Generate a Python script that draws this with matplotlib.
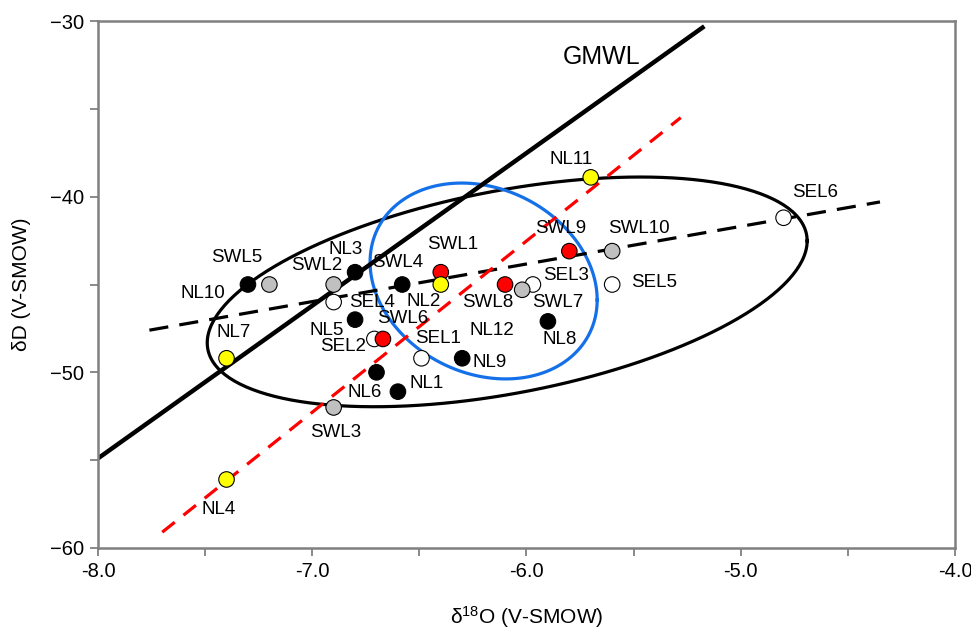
import numpy as np
import matplotlib
matplotlib.use('Agg')
import matplotlib.pyplot as plt

plt.rcParams['font.family'] = ['Liberation Sans', 'DejaVu Sans']
plt.rcParams['mathtext.default'] = 'regular'

# sample points (d18O, dD)
names = ['NL10', 'SWL5', 'SWL2', 'NL3', 'SWL4', 'SWL1', 'NL2', 'SWL8', 'SEL3', 'SWL7',
         'SWL9', 'SWL10', 'SEL5', 'NL8', 'SEL1', 'NL11', 'SEL4', 'NL5', 'SEL2', 'SWL6',
         'NL7', 'NL6', 'NL1', 'NL9', 'SWL3', 'NL4', 'SEL6']
d18o = [-7.3, -7.2, -6.9, -6.8, -6.58, -6.4, -6.4, -6.1, -5.97, -6.02,
        -5.8, -5.6, -5.6, -5.9, -6.49, -5.7, -6.9, -6.8, -6.71, -6.67,
        -7.4, -6.7, -6.6, -6.3, -6.9, -7.4, -4.8]
dD = [-45.0, -45.0, -45.0, -44.3, -45.0, -44.3, -45.0, -45.0, -45.0, -45.3,
      -43.1, -43.1, -45.0, -47.1, -49.2, -38.9, -46.0, -47.0, -48.1, -48.1,
      -49.2, -50.0, -51.1, -49.2, -52.0, -56.1, -41.2]
groups = ['k', 'g', 'g', 'k', 'k', 'r', 'y', 'r', 'w', 'g',
          'r', 'g', 'w', 'k', 'w', 'y', 'w', 'k', 'w', 'r',
          'y', 'k', 'k', 'k', 'g', 'y', 'w']
group_colors = {'k': 'black', 'g': '#c0c0c0', 'r': '#ff0000', 'y': '#ffff00', 'w': 'white'}

# label offsets in pixels
lab_dx = [-45, -33, -17, -9, -5, 12, -17, -17, 33, 36,
          -9, 27, 42, 12, 17, -20, 38, -28, -31, 20,
          7, -12, 29, 27, 2, -8, 32]
lab_dy = [-9, 27, 19, 23, 22, 28, -17, -18, 9, -13,
          23, 23, 2, -18, 20, 18, 0, -11, -8, 20,
          26, -20, 8, -4, -25, -30, 25]

# lines
gmwl_x = [-8.0, -5.17]
gmwl_y = [-54.9, -30.3]
fit_x = [-7.76, -4.35]
fit_y = [-47.6, -40.3]
red_x = [-7.70, -5.28]
red_y = [-59.1, -35.5]

# ellipses: centre and conjugate half-axes
blk_ell = [-6.09, -45.42, 1.40, 2.90, 0.0, 5.86]
blu_ell = [-6.20, -44.80, 0.53, -1.08, 0.0, 5.47]

fig = plt.figure(figsize=(9.71, 6.33), dpi=100)
ax = fig.add_axes([0.1009, 0.1343, 0.8826, 0.8325])

t = np.linspace(0, 2 * np.pi, 300)
for e, c in [(blk_ell, 'black'), (blu_ell, '#1470e8')]:
    ex = e[0] + e[2] * np.cos(t) + e[4] * np.sin(t)
    ey = e[1] + e[3] * np.cos(t) + e[5] * np.sin(t)
    ax.plot(ex, ey, color=c, lw=2.3, zorder=2)

ax.plot(gmwl_x, gmwl_y, color='black', lw=3.2, solid_capstyle='butt', zorder=2)
ax.plot(fit_x, fit_y, color='black', lw=2.3, dashes=(6, 3.5), zorder=2)
ax.plot(red_x, red_y, color='#ff0000', lw=2.3, dashes=(5, 3.5), zorder=2)

cols = [group_colors[g] for g in groups]
ax.scatter(d18o, dD, s=125, c=cols, edgecolors='black', linewidths=0.8, zorder=3)

for n, x, y, dx, dy in zip(names, d18o, dD, lab_dx, lab_dy):
    ax.annotate(n, (x, y), xytext=(dx, dy), textcoords='offset pixels',
                ha='center', va='center', fontsize=13.5)
ax.text(-6.16, -47.64, 'NL12', ha='center', va='center', fontsize=13.5)
ax.text(-5.65, -32.05, 'GMWL', ha='center', va='center', fontsize=18)

ax.set_xlim(-8, -4)
ax.set_ylim(-60, -30)
ax.set_xticks(np.arange(-8, -3.9, 1.0))
ax.set_xticks(np.arange(-7.5, -4, 1.0), minor=True)
ax.set_xticklabels(['%.1f' % v for v in np.arange(-8, -3.9, 1.0)])
ax.set_yticks(np.arange(-60, -29, 10))
ax.set_yticks(np.arange(-55, -30, 10), minor=True)
ax.tick_params(which='both', direction='out', color='#808080', width=1.3)
ax.tick_params(which='major', length=6, labelsize=14.5, pad=4)
ax.tick_params(which='minor', length=6)
for s in ax.spines.values():
    s.set_color('#808080')
    s.set_linewidth(1.8)

ax.set_xlabel('\u03b4$^{18}$O (V-SMOW)', fontsize=15, labelpad=17)
ax.set_ylabel('\u03b4D (V-SMOW)', fontsize=15, labelpad=14)

fig.savefig('out.png', dpi=100)
